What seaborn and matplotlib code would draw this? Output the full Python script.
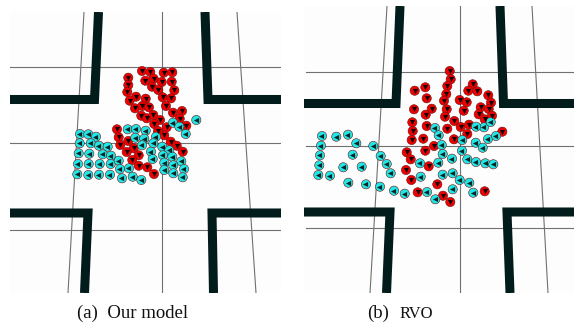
import pandas as pd
import matplotlib
matplotlib.use("Agg")
import matplotlib.pyplot as plt
import seaborn as sns

# agent positions (pixel units, y pointing down)
red_a_x = [142.0, 150.3, 163.7, 172.3, 128.3, 145.3, 153.7, 161.7, 171.7, 128.3,
           152.0, 158.3, 174.3, 127.3, 136.0, 145.7, 162.7, 171.0, 129.7, 135.0,
           142.3, 149.0, 166.0, 173.0, 182.0, 141.3, 146.7, 153.3, 160.0, 179.7,
           154.3, 166.7, 186.3, 117.0, 158.0, 118.7, 128.3, 164.3, 170.7, 120.3,
           133.7, 176.7, 126.7, 138.7, 182.7, 132.3, 138.7, 147.3, 154.0]
red_a_y = [71.0, 72.0, 72.7, 72.3, 77.7, 80.7, 78.7, 82.0, 81.7, 85.0,
           86.7, 90.0, 90.3, 92.0, 96.7, 98.7, 97.3, 98.3, 100.7, 108.3,
           106.0, 107.3, 106.0, 112.7, 111.0, 115.7, 118.3, 115.0, 120.0, 118.7,
           124.0, 127.3, 125.7, 129.3, 131.0, 137.3, 141.0, 135.3, 141.7, 145.0,
           148.3, 145.7, 152.0, 155.3, 151.7, 160.0, 165.7, 167.3, 174.0]

cyan_a_x = [196.3, 173.0, 179.3, 185.7, 127.7, 136.0, 145.7, 80.0, 88.3, 96.0,
            135.3, 144.3, 156.0, 79.7, 90.7, 99.0, 107.7, 142.0, 153.3, 162.3,
            169.3, 78.7, 89.3, 102.7, 111.0, 151.0, 163.0, 172.3, 181.3, 78.0,
            88.7, 99.7, 110.7, 118.7, 152.7, 164.3, 173.3, 184.0, 77.3, 88.3,
            99.0, 110.0, 120.0, 129.0, 122.0, 132.7, 141.3, 164.3, 173.3, 182.7]
cyan_a_y = [120.0, 122.7, 126.7, 134.0, 129.3, 129.0, 130.7, 134.0, 134.3, 136.7,
            137.7, 138.7, 136.7, 143.3, 143.3, 145.7, 146.7, 145.3, 143.3, 146.7,
            150.3, 153.3, 153.7, 154.3, 155.7, 151.7, 155.3, 156.7, 161.3, 164.0,
            164.0, 164.0, 164.0, 160.7, 159.0, 162.7, 165.3, 169.0, 174.3, 175.0,
            174.7, 174.7, 169.0, 168.3, 178.3, 176.7, 180.0, 170.0, 173.3, 177.3]

red_b_x = [449.7, 450.7, 472.7, 414.7, 425.3, 447.3, 468.3, 477.3, 488.3, 426.7,
           446.3, 444.0, 459.7, 466.7, 491.0, 414.0, 431.7, 446.7, 463.7, 480.7,
           488.7, 425.7, 445.0, 478.7, 484.7, 492.0, 412.3, 426.7, 454.3, 460.7,
           469.0, 412.7, 447.3, 467.3, 502.3, 411.7, 423.3, 454.0, 434.0, 425.3,
           406.7, 410.7, 428.7, 406.0, 411.3, 437.3, 417.7, 443.0, 450.3, 484.7]
red_b_y = [71.0, 79.3, 84.3, 90.7, 87.3, 86.0, 90.7, 91.3, 95.3, 98.3,
           94.0, 100.7, 100.0, 102.3, 102.7, 109.3, 108.7, 109.3, 110.7, 107.3,
           109.0, 114.7, 116.7, 114.3, 119.3, 115.7, 122.3, 126.0, 121.0, 127.0,
           124.7, 131.0, 128.7, 134.0, 131.7, 140.0, 138.7, 139.3, 146.0, 150.7,
           152.3, 159.3, 166.3, 170.0, 180.0, 184.3, 192.3, 195.7, 202.0, 191.3]

cyan_b_x = [322.0, 336.3, 348.0, 356.3, 373.3, 321.0, 320.0, 352.7, 380.7, 319.3,
            343.3, 361.7, 386.7, 318.3, 330.0, 390.7, 348.3, 366.0, 380.0, 394.0,
            404.7, 420.0, 420.7, 427.0, 435.3, 435.0, 438.7, 441.7, 442.7, 438.3,
            442.7, 452.0, 452.7, 462.3, 462.0, 459.7, 469.3, 473.3, 467.3, 476.0,
            485.3, 493.3, 475.7, 482.7, 488.0, 496.0, 484.0, 476.0, 490.7, 452.7]
cyan_b_y = [136.0, 136.7, 134.7, 143.3, 146.0, 145.7, 155.3, 154.7, 156.0, 165.3,
            167.3, 166.7, 164.0, 175.0, 175.7, 173.3, 182.7, 184.3, 186.7, 190.7,
            193.7, 163.3, 176.7, 192.0, 199.3, 128.0, 135.3, 145.0, 154.0, 162.7,
            174.7, 158.7, 173.3, 140.0, 150.7, 180.0, 182.7, 192.7, 159.3, 162.0,
            163.3, 164.3, 142.7, 147.7, 139.0, 136.0, 127.3, 126.7, 122.0, 189.3]

# scene geometry (pixel units): panel boxes, grid lines, walls
panels = [(10, 12, 281, 293), (304, 6, 574, 293)]
grid_a = [[(10, 67), (281, 67)], [(10, 143), (281, 143)], [(10, 230), (281, 230)],
          [(162, 12), (162, 293)], [(84, 12), (68, 293)], [(237, 12), (256, 293)]]
grid_b = [[(306, 72), (574, 72)], [(306, 146), (574, 146)], [(306, 228), (574, 228)],
          [(460, 6), (460, 293)], [(387, 6), (370, 293)], [(532, 6), (548, 293)]]
walls_a = [[(98.5, 12), (94.5, 99.5), (10, 99.5)],
           [(205, 12), (208, 99.5), (281, 99.5)],
           [(10, 213), (88, 213), (84.5, 293)],
           [(281, 213), (212, 213), (213.5, 293)]]
walls_b = [[(400, 6), (396, 103.5), (304, 103.5)],
           [(500, 6), (503.5, 103.5), (574, 103.5)],
           [(304, 212), (390, 212), (386.5, 293)],
           [(574, 212), (507, 212), (510, 293)]]

agents = pd.concat([
    pd.DataFrame({"x": red_a_x + red_b_x, "y": red_a_y + red_b_y, "group": "red"}),
    pd.DataFrame({"x": cyan_a_x + cyan_b_x, "y": cyan_a_y + cyan_b_y, "group": "cyan"}),
], ignore_index=True)

fig = plt.figure(figsize=(5.74, 3.29), dpi=100)
ax = fig.add_axes([0, 0, 1, 1])

for (x0, y0, x1, y1), grid, walls in zip(panels, [grid_a, grid_b], [walls_a, walls_b]):
    box = plt.Rectangle((x0, y0), x1 - x0, y1 - y0, facecolor="#fdfdfd",
                        edgecolor="none", zorder=0)
    ax.add_patch(box)
    for seg in grid:
        xs, ys = zip(*seg)
        ln, = ax.plot(xs, ys, color="#707070", lw=0.8, zorder=1)
        ln.set_clip_path(box)
    for w in walls:
        xs, ys = zip(*w)
        ln, = ax.plot(xs, ys, color="#021c1c", lw=6.5, solid_joinstyle="miter",
                      solid_capstyle="butt", zorder=2)
        ln.set_clip_path(box)

sns.scatterplot(data=agents, x="x", y="y", hue="group",
                palette={"red": "#f00000", "cyan": "#22e6e6"},
                s=44, edgecolor="#6a1010", linewidth=0.4, legend=False, ax=ax, zorder=3)
# heading arrows: red agents walk down, cyan agents walk left
red = agents[agents.group == "red"]
cyan = agents[agents.group == "cyan"]
sns.scatterplot(x=red.x, y=red.y - 0.2, marker="v", s=14, color="#140000",
                linewidth=0, ax=ax, zorder=4)
sns.scatterplot(x=cyan.x - 0.8, y=cyan.y, marker="<", s=14, color="#062626",
                linewidth=0, ax=ax, zorder=4)
ax.set_xlim(0, 574)
ax.set_ylim(329, 0)
ax.axis("off")

ax.text(132.5, 313, "(a)  Our model", ha="center", va="center",
        family="Liberation Serif", fontsize=13.5, color="#111111")
ax.text(378, 313, "(b)", ha="center", va="center",
        family="Liberation Serif", fontsize=13.5, color="#111111")
ax.text(416.5, 314, "RVO", ha="center", va="center",
        family="Liberation Serif", fontsize=12, color="#111111")

fig.savefig("out.png", dpi=100)
